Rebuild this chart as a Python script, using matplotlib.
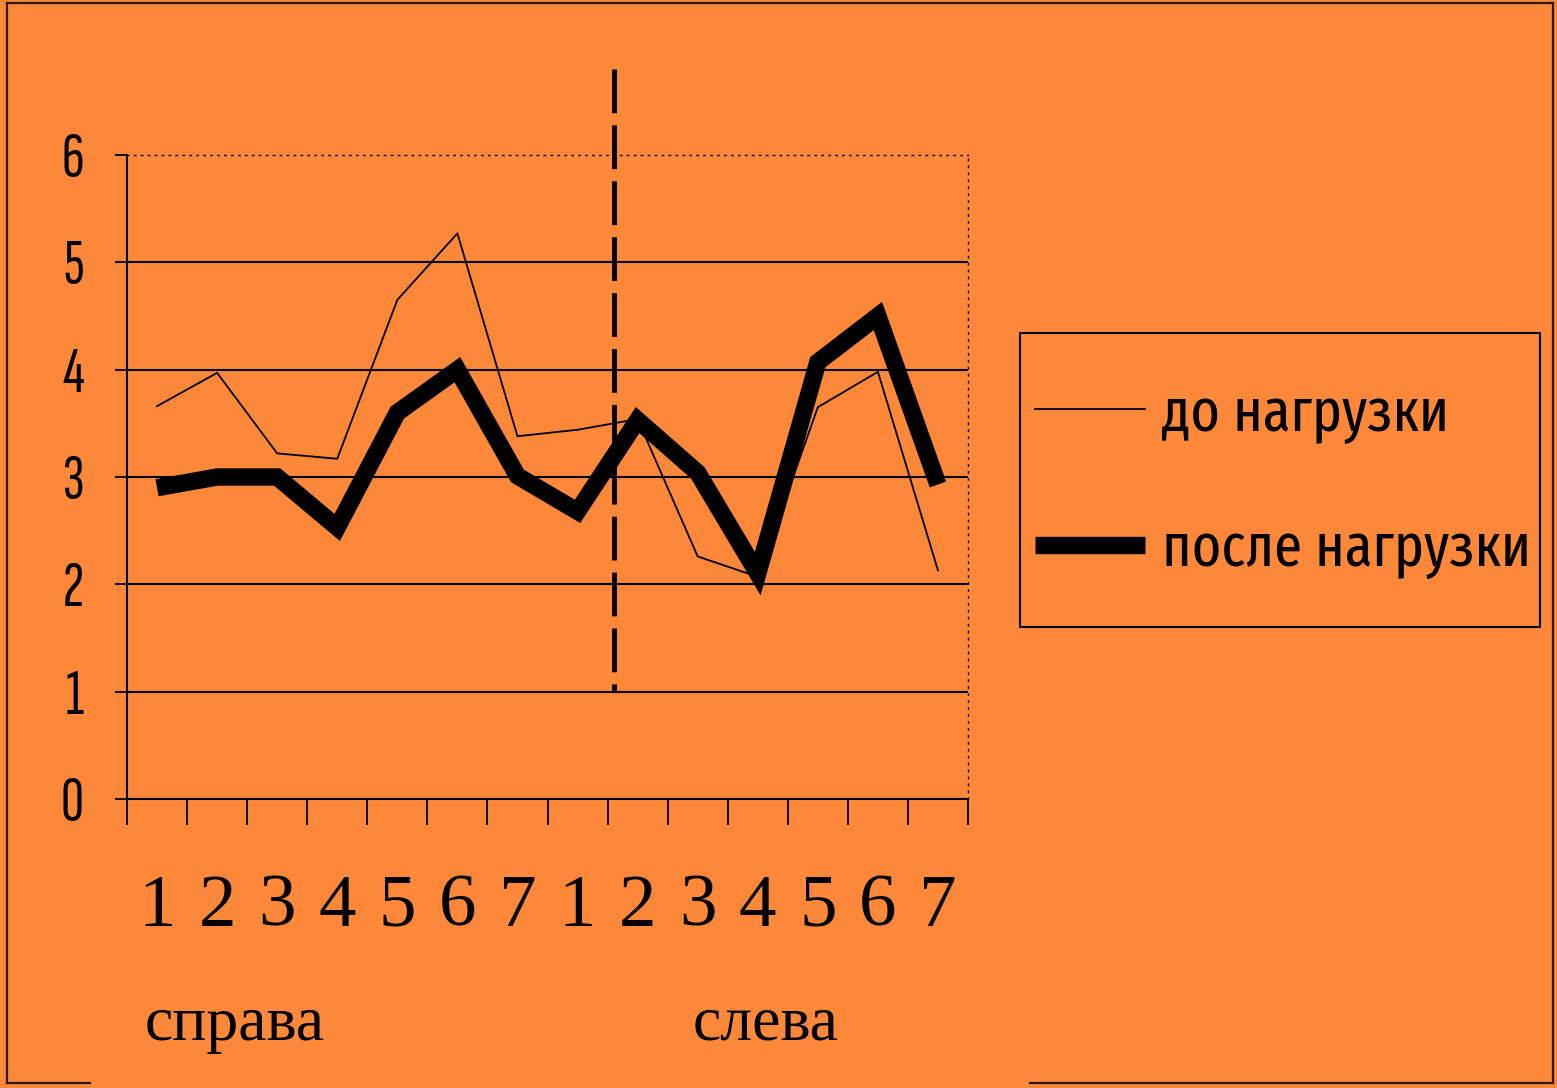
import numpy as np
import matplotlib
matplotlib.use("Agg")
import matplotlib.pyplot as plt
from matplotlib.lines import Line2D
from matplotlib.patches import Rectangle
from matplotlib.transforms import blended_transform_factory

# values per position: 7 on the right side, then 7 on the left side
tick_labels = ["1", "2", "3", "4", "5", "6", "7", "1", "2", "3", "4", "5", "6", "7"]
before_load = [3.66, 3.97, 3.22, 3.17, 4.65, 5.27, 3.38, 3.44, 3.54, 2.26, 2.07, 3.65, 3.98, 2.13]
after_load = [2.9, 3.0, 3.0, 2.53, 3.6, 4.0, 3.01, 2.68, 3.53, 3.04, 2.1, 4.07, 4.5, 2.93]
series_names = ["до нагрузки", "после нагрузки"]
side_names = ["справа", "слева"]

bg = "#FD8839"
W, H = 1557, 1088
digits_font = ["Sofia Sans Extra Condensed", "DejaVu Sans"]
narrow = ["Fira Sans Extra Condensed", "DejaVu Sans"]
serif = ["Liberation Serif", "DejaVu Serif"]

fig = plt.figure(figsize=(W / 100, H / 100), dpi=100, facecolor=bg)
ax = fig.add_axes([127 / W, 289 / H, 841 / W, 644 / H], facecolor=bg)

x = np.arange(len(tick_labels))
ax.plot(x, before_load, color="black", lw=1.3, label=series_names[0])
ax.plot(x, after_load, color="black", lw=12.5, solid_joinstyle="miter",
        solid_capstyle="butt", label=series_names[1])

# separator between the two sides
sep, = ax.plot([7.6, 7.6], [6.8, 1], color="black", lw=3.5, clip_on=False)
sep.set_dashes((9, 2.5))

ax.set_xlim(-0.5, len(tick_labels) - 0.5)
ax.set_ylim(0, 6)

ax.set_xticks(np.arange(-0.5, len(tick_labels)))
ax.set_xticklabels([])
ax.set_xticks(x, minor=True)
ax.set_xticklabels(tick_labels, minor=True, family=serif, fontsize=54)
ax.tick_params(axis="x", which="major", direction="out", length=19, width=1.3)
ax.tick_params(axis="x", which="minor", length=0, pad=54)

ax.set_yticks(range(7))
ax.set_yticklabels([str(v) for v in range(7)], family=digits_font, fontsize=46)
ax.tick_params(axis="y", direction="out", length=9, width=1.3, pad=22)

ax.yaxis.grid(True, color="black", lw=1.5)
ax.yaxis.get_gridlines()[-1].set_visible(False)
ax.set_axisbelow(True)

for side in ("left", "bottom"):
    ax.spines[side].set_linewidth(1.5)
for side in ("top", "right"):
    ax.spines[side].set_linestyle((0, (1, 4)))
    ax.spines[side].set_linewidth(1.0)

tr = blended_transform_factory(ax.transData, ax.transAxes)
ax.text(-0.2, -0.374, side_names[0], transform=tr, family=serif, fontsize=46,
        ha="left", va="baseline")
ax.text(8.92, -0.374, side_names[1], transform=tr, family=serif, fontsize=46,
        ha="left", va="baseline")

# legend with its own frame
fig.add_artist(Rectangle((1020 / W, 1 - 627 / H), 520 / W, 294 / H,
                         transform=fig.transFigure, fill=False, ec="black", lw=1.5))
leg = ax.legend(loc="center left", bbox_to_anchor=(1035 / W, 1 - 482 / H),
                bbox_transform=fig.transFigure, frameon=False, borderpad=0,
                borderaxespad=0, handlelength=1.8, handletextpad=0.28,
                labelspacing=1.25, prop={"family": narrow, "size": 44})

# outer chart border, open at the bottom
border = [((7, 1553), (3, 3)), ((7, 7), (3, 1083)), ((1553, 1553), (3, 1083)),
          ((7, 90), (1083, 1083)), ((1030, 1553), (1083, 1083))]
for xs, ys in border:
    fig.add_artist(Line2D([v / W for v in xs], [1 - v / H for v in ys],
                          transform=fig.transFigure, color="#2a1a10", lw=1.6))

fig.savefig("out.png", dpi=100, facecolor=bg)
